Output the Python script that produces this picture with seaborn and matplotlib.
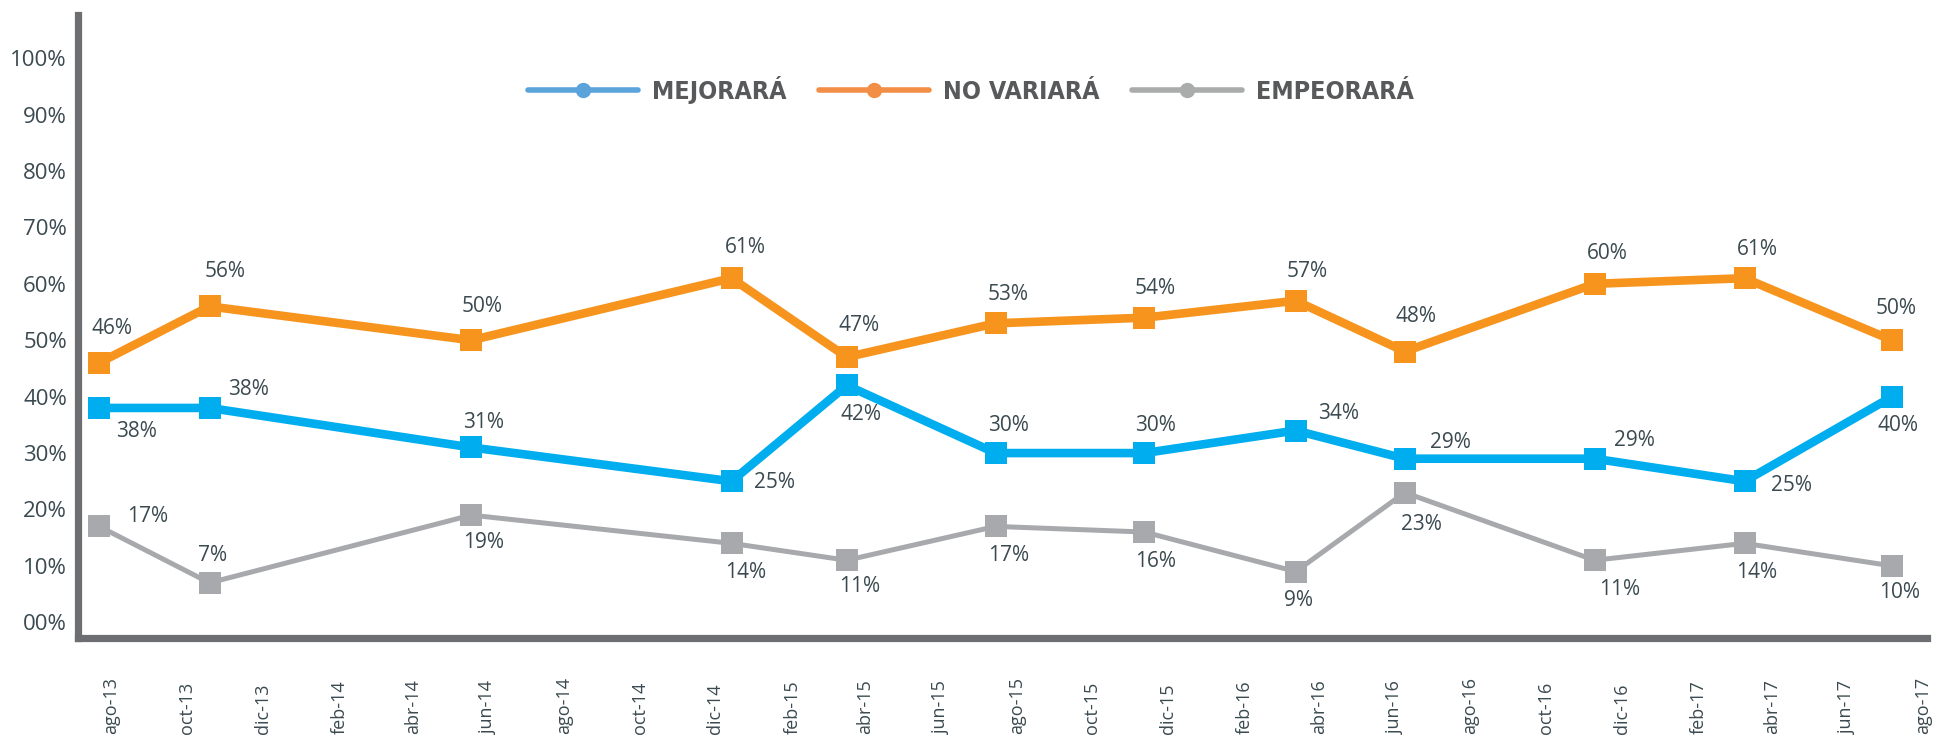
import pandas as pd
import numpy as np
import matplotlib
matplotlib.use('Agg')
import matplotlib.pyplot as plt
from matplotlib.lines import Line2D
import seaborn as sns

sns.set_style('white')
plt.rcParams['font.family'] = ['Open Sans', 'DejaVu Sans']

# DATA
fechas = ['2013-07-22', '2013-10-19', '2014-05-18', '2014-12-14', '2015-03-17', '2015-07-15',
          '2015-11-12', '2016-03-13', '2016-06-09', '2016-11-09', '2017-03-10', '2017-07-07']
series = ['MEJORARÁ', 'NO VARIARÁ', 'EMPEORARÁ']
mejorara = [38, 38, 31, 25, 42, 30, 30, 34, 29, 29, 25, 40]
no_variara = [46, 56, 50, 61, 47, 53, 54, 57, 48, 60, 61, 50]
empeorara = [17, 7, 19, 14, 11, 17, 16, 9, 23, 11, 14, 10]
meses = ['ene', 'feb', 'mar', 'abr', 'may', 'jun', 'jul', 'ago', 'sep', 'oct', 'nov', 'dic']
y_ticks = [0, 10, 20, 30, 40, 50, 60, 70, 80, 90, 100]

df = pd.DataFrame({
    'fecha': pd.to_datetime(fechas * 3),
    'serie': np.repeat(series, len(fechas)),
    'valor': mejorara + no_variara + empeorara,
})

# styles
colores = {'MEJORARÁ': '#00AEEF', 'NO VARIARÁ': '#F7941D', 'EMPEORARÁ': '#A7A9AC'}
colores_leyenda = {'MEJORARÁ': '#5BA3DB', 'NO VARIARÁ': '#F28E45', 'EMPEORARÁ': '#A9ACAB'}
grosor = {'MEJORARÁ': 6.2, 'NO VARIARÁ': 6.2, 'EMPEORARÁ': 3.6}
# label offsets in points (dx, dy)
offsets = {
    'MEJORARÁ': [(27, -17), (28, 13), (9, 18), (31, -1), (10, -21), (9, 20),
                 (8, 20), (31, 12), (33, 12), (29, 13), (34, -3), (4, -21)],
    'NO VARIARÁ': [(9, 25), (11, 25), (8, 24), (10, 22), (9, 23), (9, 21),
                   (8, 21), (8, 21), (8, 25), (9, 22), (9, 21), (3, 23)],
    'EMPEORARÁ': [(35, 7), (2, 20), (9, -20), (10, -21), (9, -19), (9, -21),
                  (8, -21), (2, -21), (12, -23), (18, -21), (9, -21), (5, -19)],
}
txt_color = '#3B4A50'
spine_color = '#6D6E71'

fig = plt.figure(figsize=(19.42, 7.36), dpi=100)
ax = fig.add_axes([0.0402, 0.133, 0.952, 0.847])

for nombre in ['EMPEORARÁ', 'NO VARIARÁ', 'MEJORARÁ']:
    d = df[df['serie'] == nombre]
    sns.lineplot(data=d, x='fecha', y='valor', color=colores[nombre], linewidth=grosor[nombre],
                 marker='s', markersize=16, markeredgewidth=0, ax=ax, legend=False)
    for (fx, v), off in zip(zip(d['fecha'], d['valor']), offsets[nombre]):
        ax.annotate(f'{v}%', (fx, v), xytext=off, textcoords='offset points',
                    ha='center', va='center', fontsize=15, color=txt_color)

# axes
ax.set_ylim(-2.8, 107.7)
ax.set_xlim(pd.Timestamp('2013-07-05'), pd.Timestamp('2017-08-04'))
ax.set_yticks(y_ticks)
ax.set_yticklabels(['00%' if t == 0 else f'{t}%' for t in y_ticks], fontsize=16, color=txt_color)
ax.tick_params(axis='y', length=0, pad=8)

label_fechas = pd.date_range('2013-08-01', '2017-08-01', freq='2MS')
tick_fechas = pd.date_range('2013-09-05', '2017-07-05', freq='2MS')
ax.set_xticks(label_fechas)
ax.set_xticklabels([f'{meses[f.month - 1]}-{str(f.year)[2:]}' for f in label_fechas],
                   rotation=90, fontsize=13, color=txt_color, va='bottom')
ax.tick_params(axis='x', which='major', length=0, pad=69)
ax.set_xticks(tick_fechas, minor=True)
ax.tick_params(axis='x', which='minor', direction='in', length=12, width=2, color=spine_color)
ax.set_xlabel('')
ax.set_ylabel('')

for s in ['top', 'right']:
    ax.spines[s].set_visible(False)
for s in ['left', 'bottom']:
    ax.spines[s].set_color(spine_color)
    ax.spines[s].set_linewidth(5.2)
    ax.spines[s].set_capstyle('projecting')

# legend
handles = [Line2D([0], [0], color=colores_leyenda[n], linewidth=4, marker='o', markersize=10)
           for n in series]
leg = fig.legend(handles, series, loc='center', bbox_to_anchor=(0.5, 0.878), ncol=3,
                 frameon=False, handlelength=4.4, handletextpad=0.55, columnspacing=1.3,
                 prop={'family': 'DejaVu Sans', 'stretch': 'condensed', 'weight': 'bold', 'size': 18})
for t in leg.get_texts():
    t.set_color('#58595B')

plt.savefig('out.png', dpi=100)
